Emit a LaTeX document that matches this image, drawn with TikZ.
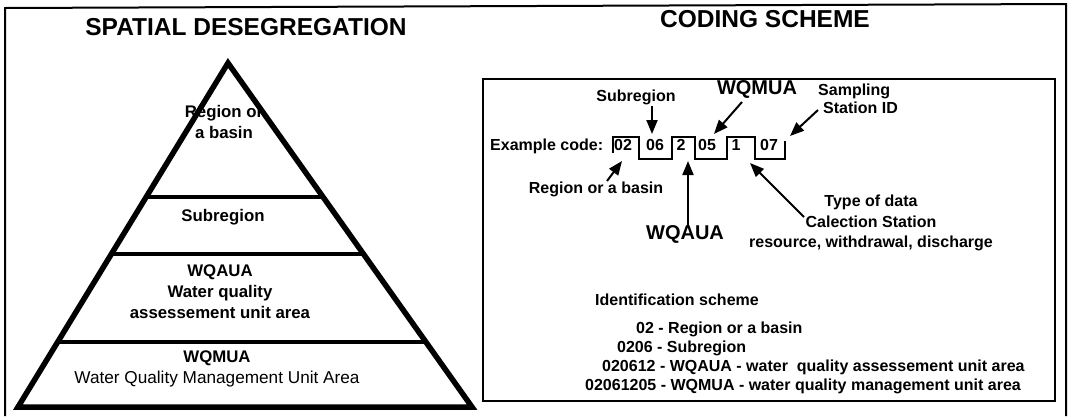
\documentclass[tikz,border=0pt]{standalone}
\usepackage{fontspec}
\setmainfont{Liberation Sans}
\usetikzlibrary{arrows.meta,calc}

\begin{document}
\begin{tikzpicture}[x=1pt,y=-1pt,
  frame/.style={line width=2pt},
  pyr/.style={line width=5.5pt,line join=miter},
  tier/.style={line width=4.5pt},
  panel/.style={line width=2.5pt},
  wave/.style={line width=2pt,line join=miter},
  title/.style={inner sep=0pt,font=\fontsize{24.5}{28}\selectfont\bfseries},
  plbl/.style={inner sep=0pt,align=center,font=\fontsize{16.8}{21}\selectfont\bfseries},
  lbl/.style={inner sep=0pt,align=center,font=\fontsize{16}{20.5}\selectfont\bfseries},
  txt/.style={inner sep=0pt,anchor=base west,font=\fontsize{16}{19}\selectfont\bfseries},
  big/.style={inner sep=0pt,font=\fontsize{20}{24}\selectfont\bfseries},
  digit/.style={inner sep=0pt,anchor=base,font=\fontsize{16}{19}\selectfont\bfseries},
  ptr/.style={line width=2pt,-{Triangle[length=14pt,width=11pt]}}
]
\useasboundingbox (0,0) rectangle (1068,416);
\fill[white] (0,0) rectangle (1068,416);

% outer frame (open at the bottom edge)
\draw[frame] (5,416) -- (5,8) -- (1066,4) -- (1066,416);

% ---------------- left half: pyramid of spatial levels ----------------
\node[title] (ltitle) at (246,27) {SPATIAL DESEGREGATION};

\coordinate (apex) at (228,63);
\coordinate (bl) at (18,407);
\coordinate (br) at (472,407);
\draw[pyr] (apex) -- (br) -- (bl) -- cycle;

\coordinate (l1) at ($(apex)!0.3895!(bl)$);
\coordinate (r1) at ($(apex)!0.3895!(br)$);
\coordinate (l2) at ($(apex)!0.5552!(bl)$);
\coordinate (r2) at ($(apex)!0.5552!(br)$);
\coordinate (l3) at ($(apex)!0.8110!(bl)$);
\coordinate (r3) at ($(apex)!0.8110!(br)$);
\draw[tier] (l1) -- (r1);
\draw[tier] (l2) -- (r2);
\draw[tier] (l3) -- (r3);

\node[plbl] (p1) at (224,122) {Region or\\a basin};
\node[plbl] (p2) at (223,217) {Subregion};
\node[plbl] (p3) at (220,292) {WQAUA\\Water quality\\assessement unit area};
\node[plbl] (p4) at (217,369) {WQMUA\\\mdseries\fontsize{17.2}{21}\selectfont Water Quality Management Unit Area};

% ---------------- right half: coding scheme ----------------
\node[title] (rtitle) at (765,19) {CODING SCHEME};
\draw[panel] (483,79) rectangle (1055,401);

\node[txt] (ex) at (490,150) {Example code:};

% stepped outline separating the code groups
\draw[wave] (613,153) -- (613,137) -- (639,137) -- (639,159) -- (672,159)
  -- (672,137) -- (695,137) -- (695,159) -- (727,159) -- (727,137)
  -- (755,137) -- (755,159) -- (785,159) -- (785,141);

\node[digit] (c02) at (623,150) {02};
\node[digit] (c06) at (655,150) {06};
\node[digit] (c2)  at (681,150) {2};
\node[digit] (c05) at (707,150) {05};
\node[digit] (c1)  at (736,150) {1};
\node[digit] (c07) at (769,150) {07};

% labels around the code
\node[lbl] (lsub) at (636,97) {Subregion};
\node[big] (lwqm) at (757,89) {WQMUA};
\node[txt] (lsam) at (818,95) {Sampling};
\node[txt] (lsta) at (823,113) {Station ID};
\node[lbl] (lreg) at (596,189) {Region or a basin};
\node[big] (lwqa) at (685,234) {WQAUA};
\node[lbl] (ltyp) at (871,223) {Type of data\\Calection Station\\resource, withdrawal, discharge};

% arrow end points
\coordinate (subT) at (652,106);  \coordinate (subH) at (652,134);
\coordinate (wqmT) at (742,102);  \coordinate (wqmH) at (714,134);
\coordinate (samT) at (818,110);  \coordinate (samH) at (790,136);
\coordinate (regT) at (607,181);  \coordinate (regH) at (622,161);
\coordinate (wqaT) at (688,228);  \coordinate (wqaH) at (688,161);
\coordinate (typT) at (804,217);  \coordinate (typH) at (750,163);

\draw[ptr] (subT) -- (subH);
\draw[ptr] (wqmT) -- (wqmH);
\draw[ptr] (samT) -- (samH);
\draw[ptr] (regT) -- (regH);
\draw[ptr] (wqaT) -- (wqaH);
\draw[ptr] (typT) -- (typH);

% identification list
\node[txt] (idh) at (595,305) {Identification scheme};
\node[txt] (id1) at (636,333) {02 - Region or a basin};
\node[txt] (id2) at (617,352) {0206 - Subregion};
\node[txt] (id3) at (602,371) {020612 - WQAUA - water\ \ quality assessement unit area};
\node[txt] (id4) at (585,390) {02061205 - WQMUA - water quality management unit area};
\end{tikzpicture}
\end{document}
